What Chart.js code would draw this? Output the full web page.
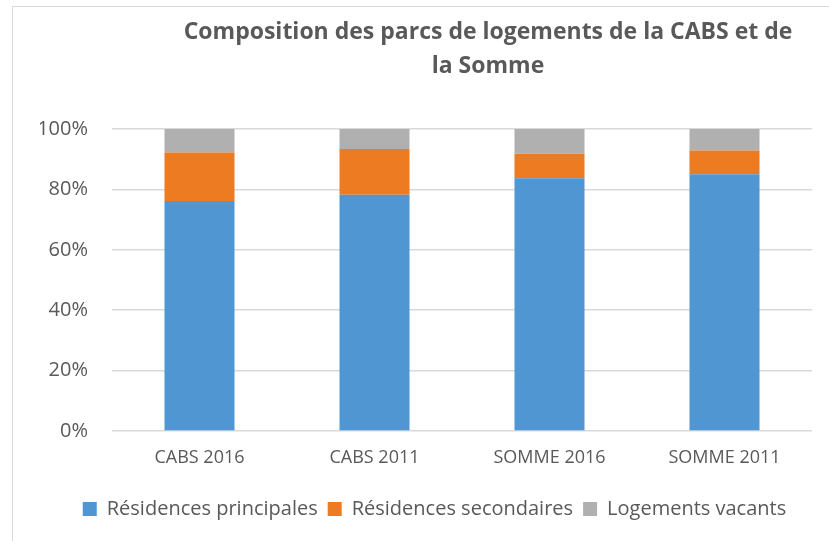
<!DOCTYPE html>
<html lang="fr">
<head>
<meta charset="utf-8">
<script src="https://cdn.jsdelivr.net/npm/chart.js@4/dist/chart.umd.min.js"></script>
<style>
  html, body { margin: 0; padding: 0; background: #fff; overflow: hidden; }
  #wrap { position: relative; width: 829px; height: 541px; }
  #frame { position: absolute; left: 12px; top: 6px; width: 900px; height: 600px;
           border-left: 1px solid #d9d9d9; border-top: 1px solid #d9d9d9; }
  canvas { position: absolute; left: 0; top: 0; }
</style>
</head>
<body>
<div id="wrap">
  <div id="frame"></div>
  <canvas id="parcChart" width="829" height="541"></canvas>
</div>
<script>
// Catégories et parts (%)
const categories = ['CABS 2016', 'CABS 2011', 'SOMME 2016', 'SOMME 2011'];
const residencesPrincipales = [76.2, 78.2, 83.7, 85.0];
const residencesSecondaires = [16.0, 15.2, 8.1, 7.9];
const logementsVacants = [7.8, 6.6, 8.2, 7.1];
const yTicks = [0, 20, 40, 60, 80, 100];
const titleLines = ['Composition des parcs de logements de la CABS et de', 'la Somme'];

const textColor = '#595959';
const gridColor = '#d9d9d9';
const fontFamily = '"Open Sans", "Liberation Sans", sans-serif';

// titre dessiné à la main (il est décalé vers la droite dans l'original)
const titlePlugin = {
  id: 'titreDecale',
  afterDraw(chart) {
    const ctx = chart.ctx;
    ctx.save();
    ctx.fillStyle = textColor;
    ctx.font = 'bold 23px ' + fontFamily;
    ctx.textAlign = 'center';
    ctx.textBaseline = 'middle';
    ctx.fillText(titleLines[0], 488, 32);
    ctx.fillText(titleLines[1], 488, 66);
    ctx.restore();
  }
};

new Chart(document.getElementById('parcChart'), {
  type: 'bar',
  data: {
    labels: categories,
    datasets: [
      { label: 'Résidences principales', data: residencesPrincipales, backgroundColor: '#5096d2' },
      { label: 'Résidences secondaires', data: residencesSecondaires, backgroundColor: '#ed7b22' },
      { label: 'Logements vacants', data: logementsVacants, backgroundColor: '#b0b0b0' },
    ],
  },
  options: {
    responsive: false,
    animation: false,
    layout: { padding: { left: 40, right: 0, top: 129, bottom: 12 } },
    datasets: { bar: { categoryPercentage: 1, barPercentage: 0.4 } },
    plugins: {
      tooltip: { enabled: false },
      title: { display: false },
      legend: {
        position: 'bottom',
        labels: {
          color: textColor,
          font: { family: fontFamily, size: 20 },
          boxWidth: 14,
          boxHeight: 14,
          padding: 10,
        },
      },
    },
    scales: {
      x: {
        stacked: true,
        grid: { display: false, drawTicks: false },
        border: { display: false },
        ticks: { color: textColor, font: { family: fontFamily, size: 18 }, padding: 16 },
        afterFit: (axis) => { axis.height = 58; },
      },
      y: {
        stacked: true,
        min: 0,
        max: 100,
        afterBuildTicks: (axis) => { axis.ticks = yTicks.map((v) => ({ value: v })); },
        ticks: {
          color: textColor,
          font: { family: fontFamily, size: 20 },
          padding: 24,
          callback: (v) => v + '%',
        },
        grid: { color: gridColor, lineWidth: 1.5, drawTicks: false },
        border: { display: false },
        afterFit: (axis) => { axis.width = 72; },
      },
      // axe fantôme à droite pour garder la marge sans décaler la légende
      y2: {
        position: 'right',
        display: true,
        grid: { display: false },
        border: { display: false },
        ticks: { display: false },
        afterFit: (axis) => { axis.width = 17; },
      },
    },
  },
  plugins: [titlePlugin],
});
</script>
</body>
</html>
